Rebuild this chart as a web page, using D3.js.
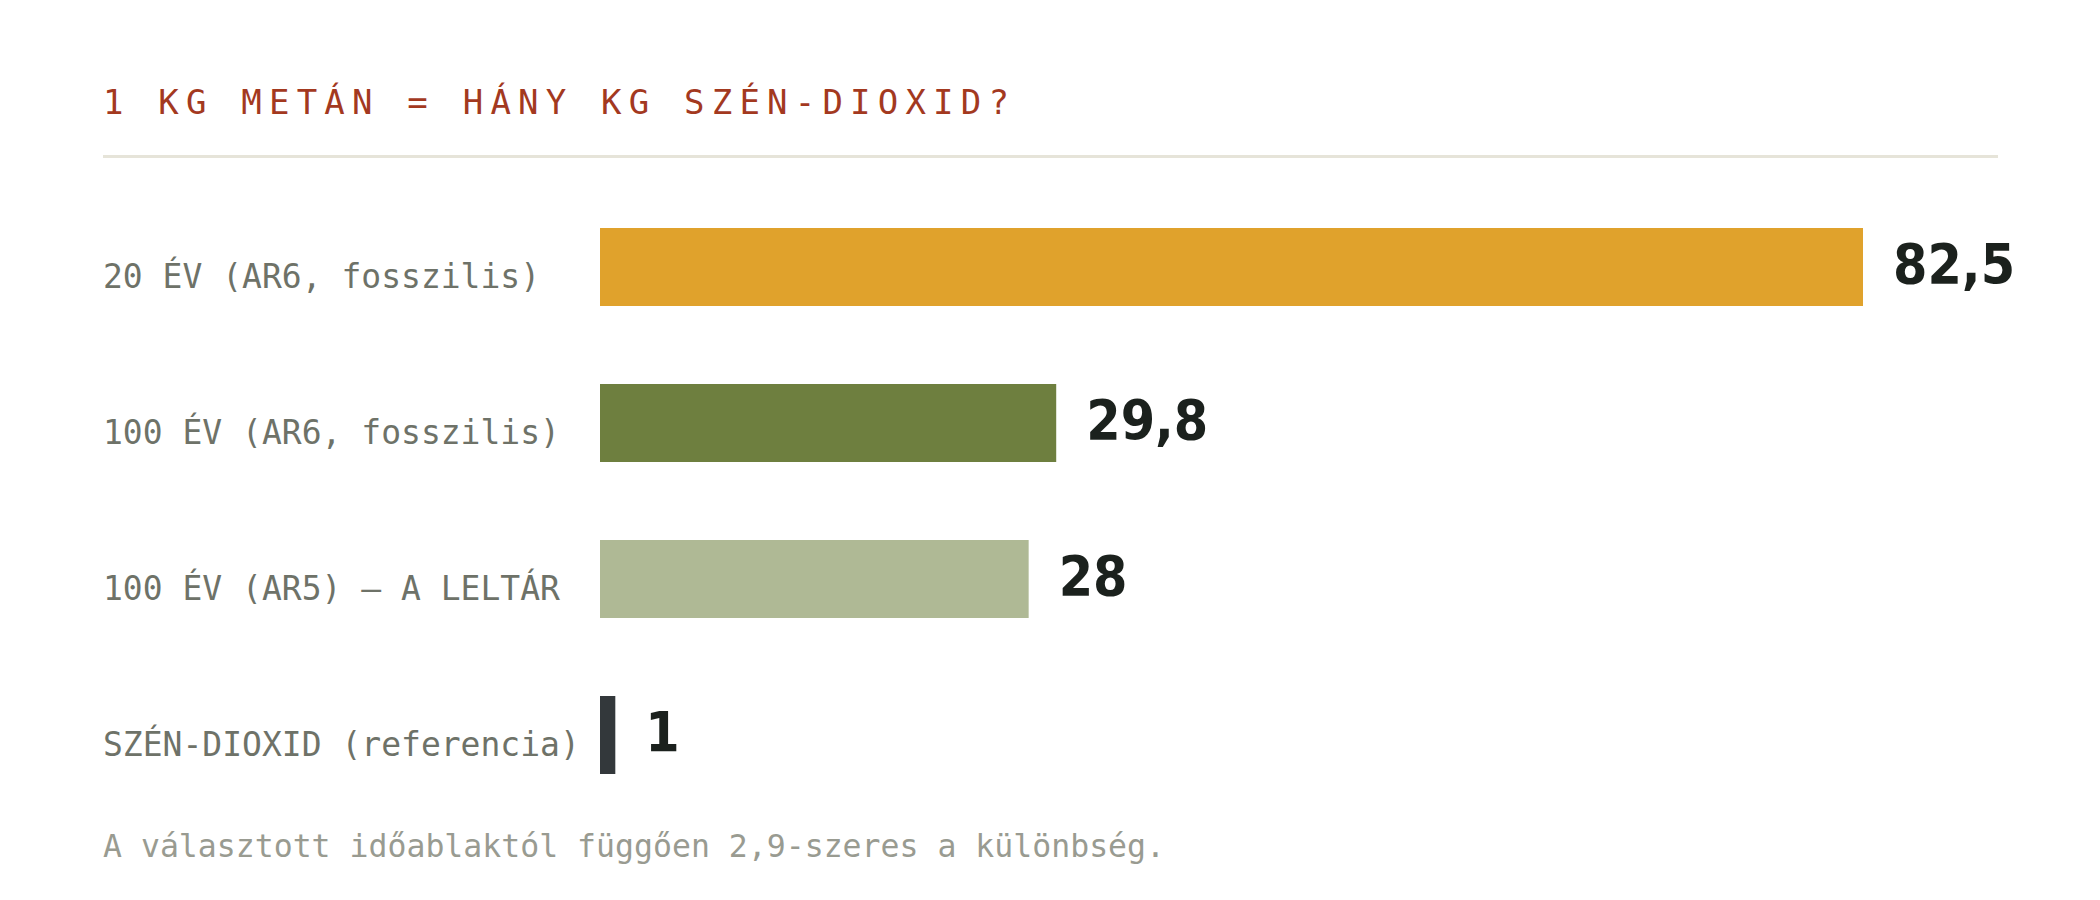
<!DOCTYPE html>
<html>
<head>
<meta charset="utf-8">
<script src="https://cdn.jsdelivr.net/npm/d3@7"></script>
<style>
  html, body { margin: 0; padding: 0; background: #fff; }
  svg { display: block; }
</style>
</head>
<body>
<div id="chart"></div>
<script>
// 1 kg metán hány kg CO2-nek felel meg (GWP)

const title = '1 KG METÁN = HÁNY KG SZÉN-DIOXID?';
const footnote = 'A választott időablaktól függően 2,9-szeres a különbség.';

const categories = [
  '20 ÉV (AR6, fosszilis)',
  '100 ÉV (AR6, fosszilis)',
  '100 ÉV (AR5) — A LELTÁR',
  'SZÉN-DIOXID (referencia)'
];
const values = [82.5, 29.8, 28, 1];
const valueLabels = ['82,5', '29,8', '28', '1'];
const colors = ['#e0a22c', '#6e7f3f', '#afb995', '#33383b'];

const W = 2100, H = 900;
const mono = '"DejaVu Sans Mono", "Liberation Mono", monospace';

const svg = d3.select('#chart')
  .append('svg')
  .attr('width', W)
  .attr('height', H)
  .attr('viewBox', [0, 0, W, H]);

svg.append('rect').attr('width', W).attr('height', H).attr('fill', '#fff');

// Scales
const x = d3.scaleLinear()
  .domain([0, d3.max(values)])
  .range([600, 1863]);

const y = d3.scaleBand()
  .domain(categories)
  .range([189, 813])
  .paddingInner(0.5)
  .paddingOuter(0.25);

// Title + rule
svg.append('text')
  .text(title)
  .attr('x', 103)
  .attr('y', 114)
  .attr('fill', '#a3391f')
  .attr('font-family', mono)
  .attr('font-size', 34)
  .attr('letter-spacing', 7.2);

svg.append('line')
  .attr('x1', 103).attr('x2', 1998)
  .attr('y1', 156.5).attr('y2', 156.5)
  .attr('stroke', '#e6e4d9')
  .attr('stroke-width', 3);

const rows = categories.map((c, i) => ({
  cat: c, value: values[i], label: valueLabels[i], color: colors[i]
}));

// Category labels
svg.append('g').selectAll('text')
  .data(rows)
  .enter().append('text')
  .text(d => d.cat)
  .attr('x', 103)
  .attr('y', d => y(d.cat) + 60)
  .attr('fill', '#6e7268')
  .attr('font-family', mono)
  .attr('font-size', 33);

// Bars
svg.append('g').selectAll('rect')
  .data(rows)
  .enter().append('rect')
  .attr('x', x(0))
  .attr('y', d => y(d.cat))
  .attr('width', d => x(d.value) - x(0))
  .attr('height', y.bandwidth())
  .attr('fill', d => d.color);

// Value labels
svg.append('g').selectAll('text')
  .data(rows)
  .enter().append('text')
  .text(d => d.label)
  .attr('x', d => x(d.value) + 30)
  .attr('y', d => y(d.cat) + 55)
  .attr('fill', '#1b211d')
  .attr('font-family', '"DejaVu Sans Condensed", "DejaVu Sans", sans-serif')
  .attr('font-stretch', 'condensed')
  .attr('font-weight', 700)
  .attr('font-size', 55);

// Footnote
svg.append('text')
  .text(footnote)
  .attr('x', 103)
  .attr('y', 857)
  .attr('fill', '#999b91')
  .attr('font-family', mono)
  .attr('font-size', 31.5);
</script>
</body>
</html>
